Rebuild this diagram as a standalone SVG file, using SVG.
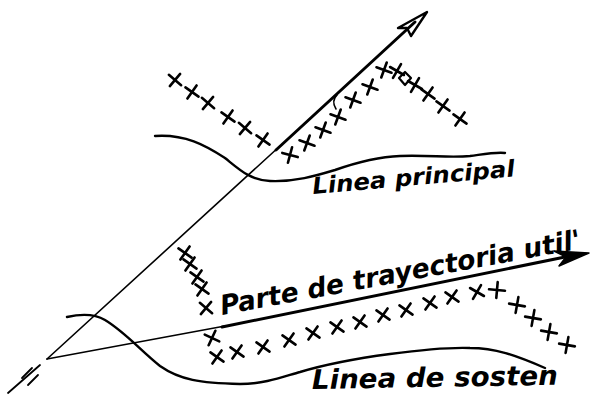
<svg xmlns="http://www.w3.org/2000/svg" xmlns:xlink="http://www.w3.org/1999/xlink" width="590" height="395" viewBox="0 0 590 395">
<defs>
<style>
.ln{fill:none;stroke:#000;stroke-linecap:round;stroke-linejoin:round}
.x{fill:none;stroke:#000;stroke-width:2.6;stroke-linecap:round}
.lbl{font-family:"DejaVu Sans","Liberation Sans",sans-serif;font-style:italic;font-weight:bold;fill:#000}
</style>
<path id="c" class="x" d="M-8,0H8M0,-8V8"/>
</defs>
<rect width="590" height="395" fill="#fff"/>
<g id="connectors">
<path class="ln" stroke-width="1.6" d="M47,359L280,146"/>
<path class="ln" stroke-width="3" d="M276,150L415,22"/>
<polygon class="ln" stroke-width="2.4" fill="#fff" points="398,28 427,12 411,36 407,28"/>
<path class="ln" stroke-width="1.6" d="M47,359L225,326"/>
<path class="ln" stroke-width="3" d="M222,327L565,257"/>
<polygon fill="#000" stroke="#000" stroke-width="1.5" stroke-linejoin="round" points="589,253 554,251 566,257 559,266"/>
<path class="ln" stroke-width="1.8" d="M8,393L40,365M22,378L32,368M28,385L38,375"/>
<path class="ln" stroke-width="1.6" d="M337,95Q331,101 336,109"/>
</g>
<g id="linea-principal">
<path class="ln" stroke-width="2.4" d="M155,136C185,134 205,145 225,158C240,170 250,180 270,181C295,182 315,176 335,170C355,163 375,157 400,156C430,155 450,158 470,156C485,154 495,152 505,153"/>
<text class="lbl" x="313" y="194" font-size="23" textLength="203" lengthAdjust="spacingAndGlyphs" transform="rotate(-5 313 194)">Linea principal</text>
</g>
<g id="linea-sosten">
<path class="ln" stroke-width="2.4" d="M67,317C80,314 95,314 105,320C125,332 140,350 160,366C180,380 200,383 240,384C265,384 285,376 300,372C320,366 345,360 390,354C420,350 445,347 470,348C495,348 515,355 545,368"/>
<text class="lbl" x="312" y="389" font-size="27" textLength="246" lengthAdjust="spacingAndGlyphs" transform="rotate(-1 312 389)">Linea de sosten</text>
</g>
<g id="trayectoria">
<text class="lbl" x="222" y="315" font-size="27" textLength="366" lengthAdjust="spacingAndGlyphs" transform="rotate(-10.5 222 315)">Parte de trayectoria util'</text>
</g>
<g id="crosses-upper">
<use xlink:href="#c" transform="translate(175,80) rotate(40)"/>
<use xlink:href="#c" transform="translate(192,92) rotate(35)"/>
<use xlink:href="#c" transform="translate(208,103) rotate(40)"/>
<use xlink:href="#c" transform="translate(228,117) rotate(35)"/>
<use xlink:href="#c" transform="translate(245,128) rotate(40)"/>
<use xlink:href="#c" transform="translate(263,140) rotate(35)"/>
<use xlink:href="#c" transform="translate(290,155) rotate(15)"/>
<use xlink:href="#c" transform="translate(307,143) rotate(20)"/>
<use xlink:href="#c" transform="translate(323,130) rotate(20)"/>
<use xlink:href="#c" transform="translate(338,117) rotate(20)"/>
<use xlink:href="#c" transform="translate(353,100) rotate(20)"/>
<use xlink:href="#c" transform="translate(370,87) rotate(20)"/>
<use xlink:href="#c" transform="translate(384,70) rotate(20)"/>
<use xlink:href="#c" transform="translate(397,71) rotate(30)"/>
<path class="ln" stroke-width="2.2" d="M405,72L411,78L405,85L399,78Z"/>
<use xlink:href="#c" transform="translate(415,85) rotate(30)"/>
<use xlink:href="#c" transform="translate(428,94) rotate(35)"/>
<use xlink:href="#c" transform="translate(443,106) rotate(35)"/>
<use xlink:href="#c" transform="translate(460,119) rotate(35)"/>
</g>
<g id="crosses-lower">
<use xlink:href="#c" transform="translate(185,253) rotate(35)"/>
<use xlink:href="#c" transform="translate(190,264) rotate(35)"/>
<use xlink:href="#c" transform="translate(197,277) rotate(35)"/>
<use xlink:href="#c" transform="translate(202,289) rotate(35)"/>
<use xlink:href="#c" transform="translate(206,308) rotate(40)"/>
<use xlink:href="#c" transform="translate(212,338) rotate(25)"/>
<use xlink:href="#c" transform="translate(217,357) rotate(35)"/>
<use xlink:href="#c" transform="translate(237,352) rotate(35)"/>
<use xlink:href="#c" transform="translate(263,347) rotate(35)"/>
<use xlink:href="#c" transform="translate(289,340) rotate(35)"/>
<use xlink:href="#c" transform="translate(313,333) rotate(35)"/>
<use xlink:href="#c" transform="translate(337,327) rotate(35)"/>
<use xlink:href="#c" transform="translate(360,322) rotate(35)"/>
<use xlink:href="#c" transform="translate(383,315) rotate(35)"/>
<use xlink:href="#c" transform="translate(406,310) rotate(35)"/>
<use xlink:href="#c" transform="translate(430,303) rotate(35)"/>
<use xlink:href="#c" transform="translate(452,297) rotate(35)"/>
<use xlink:href="#c" transform="translate(477,292) rotate(30)"/>
<use xlink:href="#c" transform="translate(497,290) rotate(5)"/>
<use xlink:href="#c" transform="translate(517,305) rotate(10)"/>
<use xlink:href="#c" transform="translate(533,318) rotate(10)"/>
<use xlink:href="#c" transform="translate(549,332) rotate(10)"/>
<use xlink:href="#c" transform="translate(567,345) rotate(10)"/>
</g>
</svg>
